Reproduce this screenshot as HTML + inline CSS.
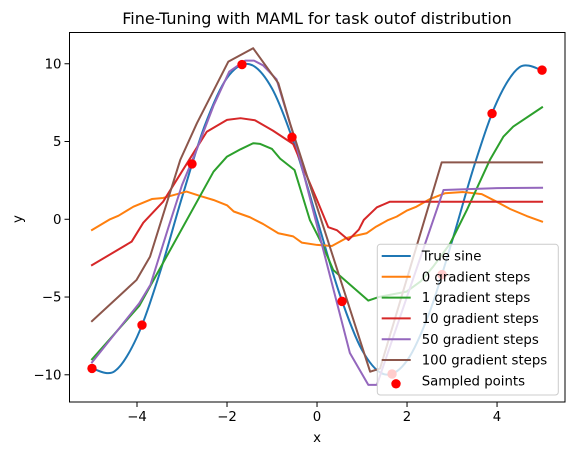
<!DOCTYPE html>
<html><head><meta charset="utf-8"><style>
html,body{margin:0;padding:0;background:#fff;}
svg text{font-family:"DejaVu Sans","Liberation Sans",sans-serif;fill:#000;}
</style></head><body>
<svg id="chart" width="574" height="455" viewBox="0 0 574 455" xmlns="http://www.w3.org/2000/svg">
<rect width="574" height="455" fill="#fff"/>
<text x="317" y="24" font-size="16" text-anchor="middle">Fine-Tuning with MAML for task outof distribution</text>
<g id="xticks"></g>
<g id="yticks"></g>
<text x="317" y="442" font-size="13.3" text-anchor="middle">x</text>
<text x="22" y="219" font-size="13.3" text-anchor="middle" transform="rotate(-90 22 219)">y</text>
<g id="series"></g>
<rect x="69.5" y="32.5" width="495.5" height="369.5" fill="none" stroke="#000" stroke-width="1"/>
<g id="legend"></g>
</svg>
<script>
const xTicks=[-4,-2,0,2,4];
const yTicks=[-10,-5,0,5,10];
const sineX=[-5,-4.5,-4,-3.5,-3,-2.5,-2,-1.5,-1,-0.5,0,0.5,1,1.5,2,2.5,3,3.5,4,4.5,5];
const sineY=[-9.59,-9.78,-7.57,-3.51,1.41,5.98,9.09,9.97,8.41,4.79,0,-4.79,-8.41,-9.97,-9.09,-5.98,-1.41,3.51,7.57,9.78,9.59];
const s0X=[-5,-4.6,-4.41,-4.08,-3.67,-3.42,-2.9,-2.6,-2.3,-2.0,-1.85,-1.49,-1.2,-0.86,-0.53,-0.34,0,0.33,0.66,0.79,1.1,1.31,1.58,1.77,1.99,2.21,2.51,2.84,3.25,3.66,3.99,4.29,4.66,5];
const s0Y=[-0.69,0,0.23,0.81,1.3,1.37,1.78,1.5,1.24,0.9,0.5,0.13,-0.3,-0.9,-1.1,-1.5,-1.65,-1.72,-1.2,-1.1,-0.9,-0.48,-0.05,0.17,0.55,0.81,1.3,1.67,1.75,1.62,1.13,0.66,0.21,-0.15];
const s1X=[-5,-3.95,-2.3,-2.0,-1.7,-1.42,-1.27,-1.0,-0.82,-0.5,-0.16,0.14,0.36,1.14,1.37,1.99,2.3,2.58,2.96,3.33,3.84,4.14,4.36,5];
const s1Y=[-9.0,-5.57,3.06,4.03,4.5,4.89,4.85,4.52,3.9,3.17,-0.04,-1.76,-3.26,-5.23,-5.0,-4.65,-4.0,-3.05,-1.55,0.6,3.81,5.31,5.96,7.2];
const s10X=[-5,-4.12,-3.86,-3.42,-2.75,-2.45,-2.0,-1.7,-1.38,-0.98,-0.53,0,0.25,0.44,0.7,0.93,1.04,1.33,1.62,5];
const s10Y=[-2.95,-1.44,-0.22,1.13,4.24,5.63,6.39,6.5,6.37,5.7,4.84,1.24,-0.51,-0.7,-1.33,-0.66,-0.04,0.77,1.13,1.13];
const s50X=[-5,-3.95,-3.7,-3.3,-3.0,-2.67,-2.3,-1.95,-1.6,-1.4,-1.2,-0.9,-0.5,0.73,1.14,1.33,2.81,4,5];
const s50Y=[-9.2,-5.4,-4.2,-0.5,2.2,4.5,7.3,9.5,10.2,10.2,9.9,9.0,5.2,-8.6,-10.65,-10.65,1.88,2.0,2.03];
const s100X=[-5,-4.01,-3.71,-3.04,-2.67,-1.97,-1.42,-0.86,-0.6,1.18,1.4,2.77,5];
const s100Y=[-6.55,-3.9,-2.4,3.81,6.17,10.14,11.0,8.75,6.17,-9.8,-9.6,3.66,3.66];
const ptsX=[-5,-3.889,-2.778,-1.667,-0.556,0.556,1.667,2.778,3.889,5];
const ptsY=[-9.59,-6.80,3.56,9.95,5.28,-5.28,-9.95,-3.56,6.80,9.59];
const labels=["True sine","0 gradient steps","1 gradient steps","10 gradient steps","50 gradient steps","100 gradient steps","Sampled points"];

const NS="http://www.w3.org/2000/svg";
const X0=69.5,X1=565,Y0=32.5,Y1=402;
const xmin=-5.5,xmax=5.51,ymin=-11.75,ymax=12.01;
const LW=2;
function sx(v){return X0+(v-xmin)/(xmax-xmin)*(X1-X0);}
function sy(v){return Y1-(v-ymin)/(ymax-ymin)*(Y1-Y0);}
function mk(t,a,p){const e=document.createElementNS(NS,t);for(const k in a)e.setAttribute(k,a[k]);p.appendChild(e);return e;}

const xg=document.getElementById('xticks');
xTicks.forEach(t=>{
  const l=mk('line',{x1:sx(t),x2:sx(t),y1:Y1,y2:Y1+5,stroke:'#000'},xg);
  
  
  const tx=mk('text',{x:sx(t),y:Y1+19,'font-size':'13.3','text-anchor':'middle'},xg);
  tx.textContent=t<0?'\u2212'+(-t):String(t);
  
  
});
const yg=document.getElementById('yticks');
yTicks.forEach(t=>{
  const l=mk('line',{x1:X0-5,x2:X0,y1:sy(t),y2:sy(t),stroke:'#000'},yg);
  
  
  const tx=mk('text',{x:X0-8,y:sy(t)+4.5,'font-size':'13.3','text-anchor':'end'},yg);
  tx.textContent=t<0?'\u2212'+(-t):String(t);
  
  
});

const sg=document.getElementById('series');
(function(){
  const P=sineX.map((x,i)=>[sx(x),sy(sineY[i])]);
  let d='M'+P[0][0]+','+P[0][1];
  for(let i=0;i<P.length-1;i++){
    const p0=P[Math.max(0,i-1)],p1=P[i],p2=P[i+1],p3=P[Math.min(P.length-1,i+2)];
    const c1=[p1[0]+(p2[0]-p0[0])/6,p1[1]+(p2[1]-p0[1])/6];
    const c2=[p2[0]-(p3[0]-p1[0])/6,p2[1]-(p3[1]-p1[1])/6];
    d+=' C'+c1+' '+c2+' '+p2;
  }
  const e=mk('path',{d:d,fill:'none',stroke:'#1f77b4','stroke-width':LW},sg);
  
  
})();
function poly(xs,ys,c,name){
  const e=mk('polyline',{points:xs.map((x,i)=>sx(x)+','+sy(ys[i])).join(' '),fill:'none',stroke:c,'stroke-width':LW,'stroke-linejoin':'round','stroke-linecap':'square'},sg);
  
  
}
poly(s0X,s0Y,'#ff7f0e','steps-0-line');
poly(s1X,s1Y,'#2ca02c','steps-1-line');
poly(s10X,s10Y,'#d62728','steps-10-line');
poly(s50X,s50Y,'#9467bd','steps-50-line');
poly(s100X,s100Y,'#8c564b','steps-100-line');
ptsX.forEach((x,i)=>{
  const c=mk('circle',{cx:sx(x),cy:sy(ptsY[i]),r:4.7,fill:'#ff0000'},sg);
  
  
});

const lg=document.getElementById('legend');
const lb=mk('rect',{x:377.3,y:244.3,width:181,height:150.7,rx:3,fill:'#fff','fill-opacity':0.8,stroke:'#ccc'},lg);


const cols=['#1f77b4','#ff7f0e','#2ca02c','#d62728','#9467bd','#8c564b'];
labels.forEach((lab,i)=>{
  const y=256+i*20.8;
  if(i<6){
    const l=mk('line',{x1:381.7,x2:410.7,y1:y,y2:y,stroke:cols[i],'stroke-width':LW},lg);
    
    
  }else{
    const c=mk('circle',{cx:396,cy:y+3,r:4.7,fill:'#ff0000'},lg);
    
    
  }
  const t=mk('text',{x:421.7,y:y+4.6,'font-size':'13.3'},lg);
  t.textContent=lab;
  
  
});
</script>
</body></html>
